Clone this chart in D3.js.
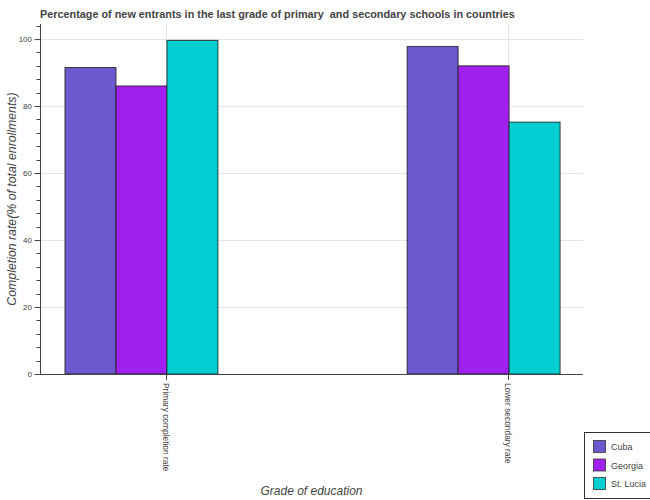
<!DOCTYPE html>
<html>
<head>
<meta charset="utf-8">
<style>
body, html {
	margin: 0;
	background: #fff;
}
svg text {
	font-family: "Liberation Sans", Arial, sans-serif;
}
</style>
</head>
<body>
<div id="chart"></div>
<script src="https://cdn.jsdelivr.net/npm/d3@7"></script>
<script>

const categories = ["Primary completion rate", "Lower secondary rate"];
const countries = ["Cuba", "Georgia", "St. Lucia"];
const colors = ["#6a5acd", "#a020f0", "#00ced1"];
const cubaValues = [91.5, 97.8];
const georgiaValues = [86.0, 92.0];
const stLuciaValues = [99.6, 75.2];
const yTicks = [0, 20, 40, 60, 80, 100];

const series = [cubaValues, georgiaValues, stLuciaValues];
const dodge = [-0.295, -0.146, 0.003];
const BAR_WIDTH = 0.149;

const WIDTH = 650, HEIGHT = 500;
const PLOT = {left: 40, right: 583, top: 24, bottom: 374};

var svg = d3.select("#chart").append("svg")
	.attr("width", WIDTH)
	.attr("height", HEIGHT);

// category index -> pixel (the reference has uneven padding around the factors)
var x = d3.scaleLinear().domain([-0.368, 1.219]).range([PLOT.left, PLOT.right]);
var y = d3.scaleLinear().domain([0, 104.5]).range([PLOT.bottom, PLOT.top]);

// grid
var grid = svg.append("g").attr("class", "grid");
grid.selectAll(".hgrid")
	.data(yTicks)
	.enter().append("line")
		.attr("x1", PLOT.left).attr("x2", PLOT.right)
		.attr("y1", (d) => y(d) + 0.5).attr("y2", (d) => y(d) + 0.5)
		.style("stroke", "#e6e6e6")
		.style("stroke-width", 1);
grid.selectAll(".vgrid")
	.data(categories)
	.enter().append("line")
		.attr("x1", (d, i) => Math.round(x(i)) + 0.5).attr("x2", (d, i) => Math.round(x(i)) + 0.5)
		.attr("y1", PLOT.top).attr("y2", PLOT.bottom)
		.style("stroke", "#e6e6e6")
		.style("stroke-width", 1);

// bars
var bars = svg.append("g").attr("class", "bars");
series.forEach(function(values, s) {
	bars.selectAll(".bar-" + s)
		.data(values)
		.enter().append("rect")
			.attr("class", "bar-" + s)
			.attr("x", (d, i) => x(i + dodge[s]))
			.attr("width", x(BAR_WIDTH) - x(0))
			.attr("y", (d) => y(d))
			.attr("height", (d) => y(0) - y(d))
			.style("fill", colors[s])
			.style("stroke", "#222")
			.style("stroke-opacity", 0.85)
			.style("stroke-width", 1);
});

// y axis
var yAxis = d3.axisLeft(y)
	.tickValues(yTicks)
	.tickSize(6)
	.tickPadding(2);
var yg = svg.append("g")
	.attr("transform", `translate(${PLOT.left},0)`)
	.call(yAxis);
yg.select(".domain").attr("d", `M0.5,${PLOT.top}V${PLOT.bottom}`).style("stroke", "#444");
yg.selectAll(".tick line").attr("x1", 0.5).attr("x2", -5.5).style("stroke", "#444");
yg.selectAll(".tick text")
	.style("font-size", "8px")
	.style("fill", "#444");
var minorTicks = d3.range(0, 105, 4).filter((v) => v % 20 !== 0);
yg.selectAll(".minor")
	.data(minorTicks)
	.enter().append("line")
		.attr("x1", 0.5).attr("x2", -3.5)
		.attr("y1", (d) => Math.round(y(d)) + 0.5).attr("y2", (d) => Math.round(y(d)) + 0.5)
		.style("stroke", "#444");

// x axis
var xg = svg.append("g").attr("transform", `translate(0,${PLOT.bottom})`);
xg.append("line")
	.attr("x1", PLOT.left).attr("x2", PLOT.right)
	.attr("y1", 0.5).attr("y2", 0.5)
	.style("stroke", "#444");
xg.selectAll(".xtick")
	.data(categories)
	.enter().append("line")
		.attr("x1", (d, i) => Math.round(x(i)) + 0.5).attr("x2", (d, i) => Math.round(x(i)) + 0.5)
		.attr("y1", 0).attr("y2", 6)
		.style("stroke", "#444");
xg.selectAll(".xlabel")
	.data(categories)
	.enter().append("text")
		.attr("transform", (d, i) => `translate(${x(i) - 3},9) rotate(90)`)
		.attr("text-anchor", "start")
		.style("font-size", "8.4px")
		.style("fill", "#444")
		.text((d) => d);

// titles
svg.append("text")
	.attr("x", 40)
	.attr("y", 18)
	.style("font-size", "10.85px")
	.style("font-weight", "bold")
	.style("fill", "#444")
	.text("Percentage of new entrants in the last grade of primary\u00a0 and secondary schools in countries");

svg.append("text")
	.attr("transform", `translate(16,${(PLOT.top + PLOT.bottom) / 2}) rotate(-90)`)
	.attr("text-anchor", "middle")
	.style("font-size", "12.3px")
	.style("font-style", "italic")
	.style("fill", "#444")
	.text("Completion rate(% of total enrollments)");

svg.append("text")
	.attr("x", (PLOT.left + PLOT.right) / 2)
	.attr("y", 495)
	.attr("text-anchor", "middle")
	.style("font-size", "12px")
	.style("font-style", "italic")
	.style("fill", "#444")
	.text("Grade of education");

// legend
var legend = svg.append("g").attr("transform", "translate(584,432)");
legend.append("rect")
	.attr("x", 0.5).attr("y", 0.5)
	.attr("width", 80).attr("height", 66)
	.style("fill", "#fff")
	.style("stroke", "#333")
	.style("stroke-width", 1);
var items = legend.selectAll(".item")
	.data(countries)
	.enter().append("g")
		.attr("transform", (d, i) => `translate(9,${8 + i * 18.5})`);
items.append("rect")
	.attr("x", 0.5).attr("y", 0.5)
	.attr("width", 12).attr("height", 12)
	.style("fill", (d, i) => colors[i])
	.style("stroke", "#333")
	.style("stroke-width", 0.8);
items.append("text")
	.attr("x", 18)
	.attr("y", 10)
	.style("font-size", "9px")
	.style("fill", "#444")
	.text((d) => d);

</script>
</body>
</html>
